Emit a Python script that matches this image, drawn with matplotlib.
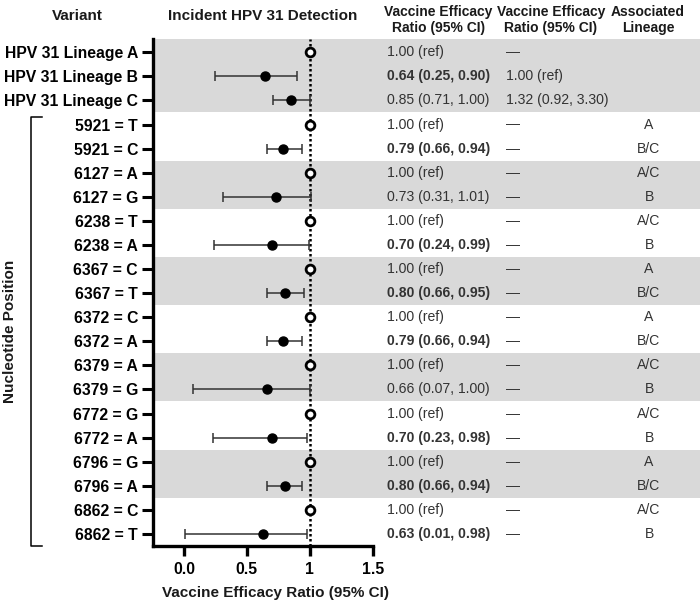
import matplotlib
matplotlib.use("Agg")
import matplotlib.pyplot as plt
from matplotlib.transforms import blended_transform_factory
from matplotlib.lines import Line2D

plt.rcParams['font.family'] = ['Liberation Sans', 'DejaVu Sans']

# ---------------- data ----------------
variants = ["HPV 31 Lineage A", "HPV 31 Lineage B", "HPV 31 Lineage C",
            "5921 = T", "5921 = C", "6127 = A", "6127 = G",
            "6238 = T", "6238 = A", "6367 = C", "6367 = T",
            "6372 = C", "6372 = A", "6379 = A", "6379 = G",
            "6772 = G", "6772 = A", "6796 = G", "6796 = A",
            "6862 = C", "6862 = T"]
ratio = [1.00, 0.64, 0.85, 1.00, 0.79, 1.00, 0.73, 1.00, 0.70, 1.00, 0.80,
         1.00, 0.79, 1.00, 0.66, 1.00, 0.70, 1.00, 0.80, 1.00, 0.63]
ci_low = [None, 0.25, 0.71, None, 0.66, None, 0.31, None, 0.24, None, 0.66,
          None, 0.66, None, 0.07, None, 0.23, None, 0.66, None, 0.01]
ci_high = [None, 0.90, 1.00, None, 0.94, None, 1.01, None, 0.99, None, 0.95,
           None, 0.94, None, 1.00, None, 0.98, None, 0.94, None, 0.98]
is_ref = [True, False, False, True, False, True, False, True, False, True, False,
          True, False, True, False, True, False, True, False, True, False]
significant = [False, True, False, False, True, False, False, False, True, False, True,
               False, True, False, False, False, True, False, True, False, True]
col2_text = ["—", "1.00 (ref)", "1.32 (0.92, 3.30)"] + ["—"] * 18
lineage_assoc = ["", "", "", "A", "B/C", "A/C", "B", "A/C", "B", "A", "B/C",
                 "A", "B/C", "A/C", "B", "A/C", "B", "A", "B/C", "A/C", "B"]
shaded_rows = [0, 1, 2, 5, 6, 9, 10, 13, 14, 17, 18]
xticks = [0.0, 0.5, 1.0, 1.5]
xticklabels = ["0.0", "0.5", "1", "1.5"]

# ---------------- figure ----------------
W, H = 700, 603
fig = plt.figure(figsize=(7.0, 6.03), dpi=100)
ax_left, ax_right = 153.3 / W, 1.0
ax_bot, ax_top = 1 - 546 / H, 1 - 39 / H
ax = fig.add_axes([ax_left, ax_bot, ax_right - ax_left, ax_top - ax_bot])

px_per_unit = 125.8
x0 = -0.244
x1 = x0 + (W - 153.3) / px_per_unit
ax.set_xlim(x0, x1)
n = len(variants)
ax.set_ylim(n - 0.5, -0.55)

# shading
for r in shaded_rows:
    ax.axhspan(r - 0.5 if r > 0 else -0.6, r + 0.5, color="#d9d9d9", lw=0, zorder=0)

# reference line
ax.axvline(1.0, color="black", lw=1.8, linestyle=(0, (1, 1)), zorder=1)

ys = list(range(n))
for i in range(n):
    if is_ref[i]:
        ax.plot(ratio[i], ys[i], "o", ms=6.3, mfc="white", mec="black", mew=2.0, zorder=4)
    else:
        ax.errorbar(ratio[i], ys[i],
                    xerr=[[ratio[i] - ci_low[i]], [ci_high[i] - ratio[i]]],
                    fmt="o", ms=6.5, color="black", ecolor="#333333",
                    elinewidth=1.1, capsize=3.6, capthick=1.1, zorder=3)

# axes styling
for s in ["top", "right"]:
    ax.spines[s].set_visible(False)
ax.spines["left"].set_linewidth(2.4)
ax.spines["bottom"].set_linewidth(2.4)
ax.spines["bottom"].set_bounds(x0, 1.5)
ax.set_yticks(ys)
ax.set_yticklabels(variants, fontsize=11.3, fontweight="bold")
ax.set_xticks(xticks)
ax.set_xticklabels(xticklabels, fontsize=11.3, fontweight="bold")
ax.tick_params(axis="y", length=8, width=2.2, pad=3)
ax.tick_params(axis="x", length=7.5, width=2.4, pad=4)

# table columns
tr = blended_transform_factory(fig.transFigure, ax.transData)
tcol = "#333333"
for i in range(n):
    t1 = "1.00 (ref)" if is_ref[i] else f"{ratio[i]:.2f} ({ci_low[i]:.2f}, {ci_high[i]:.2f})"
    ax.text(387 / W, ys[i], t1, transform=tr, ha="left", va="center", fontsize=10.1,
            color=tcol, fontweight="bold" if significant[i] else "normal")
    ax.text(506.5 / W, ys[i], col2_text[i], transform=tr, ha="left", va="center",
            fontsize=10.1, color=tcol)
    if lineage_assoc[i]:
        ax.text(649 / W, ys[i], lineage_assoc[i], transform=tr, ha="center", va="center",
                fontsize=10.1, color=tcol)

# headers
hk = dict(fontweight="bold", color="#1a1a1a", ha="center", va="center")
fig.text(77 / W, 1 - 16 / H, "Variant", fontsize=11, **hk)
fig.text(263 / W, 1 - 16 / H, "Incident HPV 31 Detection", fontsize=11, **hk)
for cx, l1, l2 in [(438.5, "Vaccine Efficacy", "Ratio (95% CI)"),
                   (550.7, "Vaccine Efficacy", "Ratio (95% CI)"),
                   (648, "Associated", "Lineage")]:
    fig.text(cx / W, 1 - 11.7 / H, l1, fontsize=10, **hk)
    fig.text(cx / W, 1 - 27.7 / H, l2, fontsize=10, **hk)

# x label
fig.text(276 / W, 1 - 593 / H, "Vaccine Efficacy Ratio (95% CI)", fontsize=11,
         fontweight="bold", ha="center", va="center", color="#1a1a1a")

# bracket + y label
bx, bx2, byt, byb = 31 / W, 42 / W, 1 - 117 / H, 1 - 546 / H
fig.add_artist(Line2D([bx2, bx, bx, bx2], [byt, byt, byb, byb], transform=fig.transFigure,
                      color="black", lw=1.1))
fig.text(10 / W, 1 - 331 / H, "Nucleotide Position", rotation=90, fontsize=11,
         fontweight="bold", ha="center", va="center", color="#1a1a1a")

fig.savefig("out.png", dpi=100)
